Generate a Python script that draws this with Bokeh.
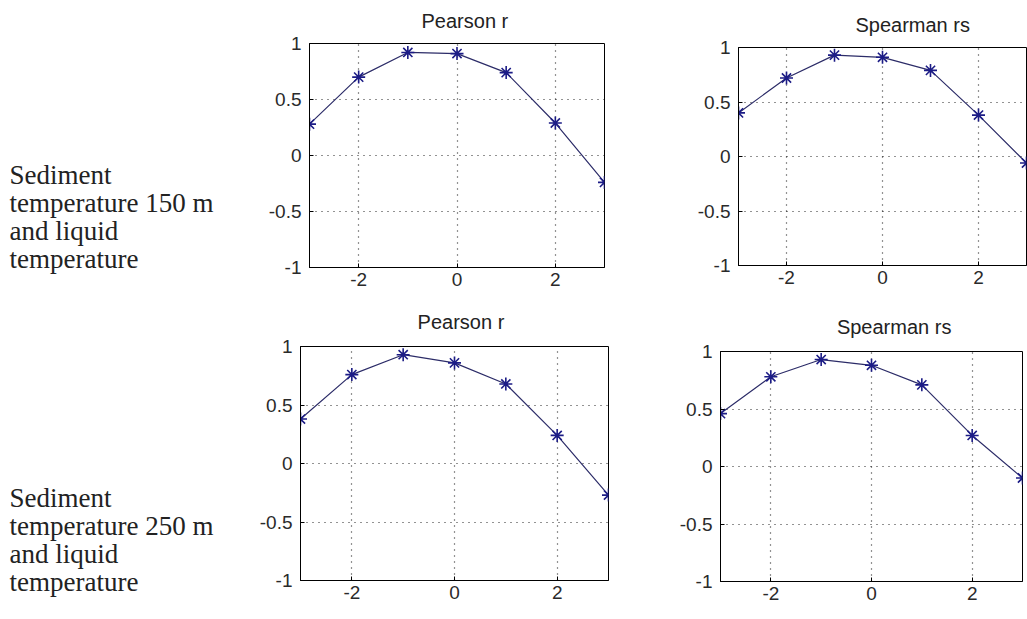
from bokeh.plotting import figure
from bokeh.models import Range1d, FixedTicker
from bokeh.core.properties import value
from bokeh.layouts import column, row
from bokeh.embed import file_html
from bokeh.resources import INLINE

# ---- data ----
lags = [-3, -2, -1, 0, 1, 2, 3]
pearson_150 = [0.28, 0.70, 0.92, 0.91, 0.74, 0.29, -0.24]
spearman_150 = [0.40, 0.72, 0.93, 0.91, 0.79, 0.38, -0.06]
pearson_250 = [0.38, 0.76, 0.93, 0.86, 0.68, 0.24, -0.27]
spearman_250 = [0.46, 0.78, 0.93, 0.88, 0.71, 0.27, -0.10]

x_ticks = [-2, 0, 2]
x_tick_labels = ["-2", "0", "2"]
y_ticks = [-1, -0.5, 0, 0.5, 1]
y_tick_labels = ["-1", "-0.5", "0", "0.5", "1"]
panel_titles = ["Pearson r", "Spearman rs"]
row_text_150 = ["Sediment", "temperature 150 m", "and liquid", "temperature"]
row_text_250 = ["Sediment", "temperature 250 m", "and liquid", "temperature"]

SANS = "Liberation Sans"
SIDE_PX = 27
TITLE_PX = 20


def blank(width, height):
    """A plain canvas without axes whose data units are pixels (y downward)."""
    t = figure(width=width, height=height,
               x_range=Range1d(0, width), y_range=Range1d(height, 0),
               x_axis_location=None, y_axis_location=None,
               output_backend="svg", toolbar_location=None,
               min_border=0, min_border_left=0, min_border_right=0,
               min_border_top=0, min_border_bottom=0)
    t.grid.visible = False
    t.outline_line_color = None
    t.background_fill_color = "white"
    t.border_fill_color = "white"
    return t


def text_panel(lines, width, height, x_px, baselines):
    t = blank(width, height)
    shift = 0.35 * SIDE_PX  # rendered baseline sits this much below y
    t.text(x=[x_px] * len(lines), y=[b - shift for b in baselines], text=lines,
           text_font=value("Liberation Serif"), text_font_size=f"{SIDE_PX}px",
           text_color="#222222", text_align="left",
           text_baseline="alphabetic")
    return t


def title_strip(title, width, height, cx, baseline):
    t = blank(width, height)
    shift = 0.35 * TITLE_PX
    t.text(x=[cx], y=[baseline - shift], text=[title],
           text_font=value(SANS), text_font_size=f"{TITLE_PX}px",
           text_color="#222222", text_align="center",
           text_baseline="alphabetic")
    return t


def panel(values, width, height, left, right, top, bottom):
    p = figure(width=width, height=height,
               x_range=Range1d(-3, 3), y_range=Range1d(-1, 1),
               output_backend="svg", toolbar_location=None,
               min_border_left=left, min_border_right=right,
               min_border_top=top, min_border_bottom=bottom)
    p.background_fill_color = "white"
    p.border_fill_color = "white"
    p.outline_line_color = "black"
    p.outline_line_width = 1
    p.outline_line_alpha = 1.0

    p.xaxis.ticker = FixedTicker(ticks=x_ticks)
    p.yaxis.ticker = FixedTicker(ticks=y_ticks)
    p.xaxis.major_label_overrides = dict(zip(x_ticks, x_tick_labels))
    p.yaxis.major_label_overrides = dict(zip(y_ticks, y_tick_labels))
    for ax in (p.xaxis, p.yaxis):
        ax.axis_line_color = "black"
        ax.major_tick_line_color = "black"
        ax.major_tick_in = 4
        ax.major_tick_out = 0
        ax.minor_tick_line_color = None
        ax.major_label_text_font = SANS
        ax.major_label_text_font_size = "19px"
        ax.major_label_text_color = "#2a2a2a"
    p.xaxis.major_label_standoff = 5
    p.yaxis.major_label_standoff = 8

    p.grid.grid_line_color = "black"
    p.grid.grid_line_dash = "1 5"
    p.grid.grid_line_width = 1.2
    p.grid.grid_line_alpha = 0.85

    p.line(lags, values, line_color="#2c2c68", line_width=1.2)
    p.scatter(lags, values, marker="asterisk", size=13,
              line_color="#1c1c86", line_width=1.6)
    return p


# ---- top row (height 300) ----
txt_top = text_panel(row_text_150, 230, 300, 9, [184, 212, 240, 268])
t_tl = title_strip(panel_titles[0], 430, 32, 79 + 295 / 2, 27)
tl = panel(pearson_150, 430, 268, 79, 56, 11, 33)
t_tr = title_strip(panel_titles[1], 367, 36, 78 + 288 / 2, 31.5)
tr = panel(spearman_150, 367, 264, 78, 1, 11, 35)

# ---- bottom row (height 319) ----
txt_bot = text_panel(row_text_250, 230, 319, 9, [207, 235, 263, 291])
t_bl = title_strip(panel_titles[0], 430, 33, 70 + 308 / 2, 28)
bl = panel(pearson_250, 430, 286, 70, 52, 13, 39)
t_br = title_strip(panel_titles[1], 367, 38, 60 + 302 / 2, 33)
br = panel(spearman_250, 367, 281, 60, 5, 13, 38)

layout = column(
    row(txt_top, column(t_tl, tl, spacing=0), column(t_tr, tr, spacing=0), spacing=0),
    row(txt_bot, column(t_bl, bl, spacing=0), column(t_br, br, spacing=0), spacing=0),
    spacing=0)

with open("out.html", "w") as f:
    f.write(file_html(layout, INLINE))
